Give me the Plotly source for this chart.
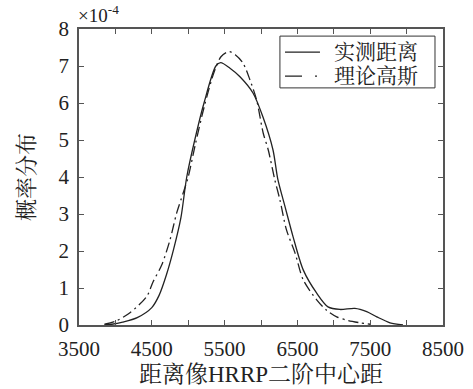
import plotly.graph_objects as go

# Measured distribution of the HRRP second-order central moment (values in 1e-4)
measured_x = [3850, 3950, 4100, 4300, 4500, 4600, 4700, 4800, 4900, 4980, 5090, 5217,
              5380, 5446, 5574, 5711, 5890, 6027, 6165, 6230, 6330, 6440, 6580, 6765,
              6920, 7085, 7290, 7452, 7590, 7772, 7950]
measured_y = [0.0, 0.02, 0.08, 0.2, 0.47, 0.8, 1.35, 2.05, 2.9, 4.0, 5.0, 6.0,
              7.0, 7.09, 6.94, 6.71, 6.27, 5.62, 4.73, 3.95, 3.2, 2.39, 1.49, 0.86,
              0.49, 0.42, 0.45, 0.36, 0.22, 0.06, 0.0]

# Theoretical Gaussian fit (values in 1e-4)
gauss_x = [3850, 4000, 4200, 4430, 4518, 4636, 4750, 4842, 4930, 5000, 5100, 5220,
           5350, 5450, 5560, 5650, 5753, 5849, 5940, 6030, 6100, 6190, 6260, 6350,
           6467, 6580, 6765, 6900, 7040, 7200, 7360, 7500]
gauss_y = [0.02, 0.1, 0.33, 0.77, 1.17, 1.62, 2.3, 3.03, 3.56, 4.0, 4.9, 5.9,
           6.8, 7.25, 7.39, 7.3, 7.08, 6.62, 6.08, 5.19, 4.73, 3.92, 3.38, 2.57,
           1.95, 1.22, 0.68, 0.4, 0.22, 0.12, 0.06, 0.02]

series_names = ["实测距离", "理论高斯"]
x_ticks = [3500, 4500, 5500, 6500, 7500, 8500]
y_ticks = [0, 1, 2, 3, 4, 5, 6, 7, 8]

FONT = "Liberation Serif, 'Noto Serif CJK SC', 'Noto Sans CJK SC', serif"
INK = "#222222"
AXIS = "#555555"
SOLID = "solid"
DASHDOT = "10px,4px,2px,4px"

fig = go.Figure()
fig.add_trace(go.Scatter(
    x=measured_x, y=measured_y, mode="lines", name=series_names[0],
    line=dict(color=INK, width=1.3, shape="spline", smoothing=0.8, dash=SOLID),
))
fig.add_trace(go.Scatter(
    x=gauss_x, y=gauss_y, mode="lines", name=series_names[1],
    line=dict(color=INK, width=1.3, shape="spline", smoothing=0.8, dash=DASHDOT),
))

axis_common = dict(
    showline=True, linecolor=AXIS, linewidth=1.5, mirror="ticks",
    ticks="inside", ticklen=5, tickcolor=AXIS, tickwidth=1,
    showgrid=False, zeroline=False, automargin=False,
    tickfont=dict(family=FONT, size=21, color=INK),
)

fig.update_xaxes(
    range=[3500, 8500], tickvals=x_ticks, ticktext=[str(v) for v in x_ticks],
    minor=dict(ticks="inside", dtick=500, tick0=3500, ticklen=5, tickcolor=AXIS),
    ticklabelstandoff=4,
    title=dict(text="距离像HRRP二阶中心距", font=dict(family=FONT, size=23, color=INK),
               standoff=6),
    **axis_common,
)
fig.update_yaxes(
    range=[0, 8], tickvals=y_ticks, ticktext=[str(v) for v in y_ticks],
    ticklabelstandoff=4,
    title=dict(text="概率分布", font=dict(family=FONT, size=22, color=INK),
               standoff=18),
    **axis_common,
)

fig.add_annotation(
    x=0, y=1, xref="paper", yref="paper", xanchor="left", yanchor="bottom",
    xshift=-3, yshift=1, showarrow=False,
    text="×10<sup>-4</sup>", font=dict(family=FONT, size=19, color=INK),
)

# Compact boxed legend in the upper-right corner of the axes
box_x0, box_x1, box_y0, box_y1 = 0.552, 0.978, 0.801, 0.976
row_y = [0.922, 0.841]
sample_x0, sample_x1, text_x = 0.566, 0.662, 0.695
fig.add_shape(type="rect", xref="paper", yref="paper",
              x0=box_x0, x1=box_x1, y0=box_y0, y1=box_y1,
              line=dict(color="#333333", width=1), fillcolor="white", layer="above")
legend_dashes = [SOLID, "17px,13px,2px,10px"]
for name, y, dash in zip(series_names, row_y, legend_dashes):
    fig.add_shape(type="line", xref="paper", yref="paper",
                  x0=sample_x0, x1=sample_x1, y0=y, y1=y,
                  line=dict(color=INK, width=1.3, dash=dash), layer="above")
    fig.add_annotation(x=text_x, y=y, xref="paper", yref="paper",
                       xanchor="left", yanchor="middle", showarrow=False,
                       text=name, font=dict(family=FONT, size=21, color=INK))

fig.update_layout(
    width=473, height=389,
    margin=dict(l=79, r=30, t=29, b=64),
    paper_bgcolor="white", plot_bgcolor="white",
    showlegend=False,
)

fig.write_html("out.html")
